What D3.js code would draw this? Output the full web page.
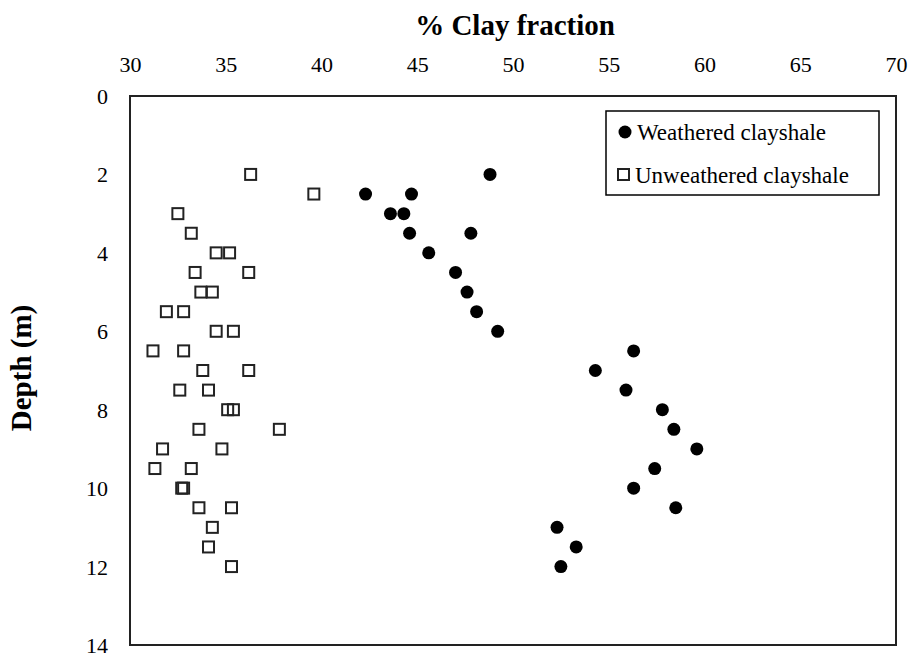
<!DOCTYPE html>
<html>
<head>
<meta charset="utf-8">
<script src="https://cdn.jsdelivr.net/npm/d3@7"></script>
<style>
	body { margin: 0; background: #fff; }
	svg { display: block; font-family: "Liberation Serif", "Times New Roman", serif; }
</style>
</head>
<body>
<svg width="909" height="656"></svg>
<script>
// depth (m) and clay fraction (%)
const weatheredDepth = [2, 2.5, 2.5, 3, 3, 3.5, 3.5, 4, 4.5, 5, 5.5, 6, 6.5, 7, 7.5, 8, 8.5, 9, 9.5, 10, 10.5, 11, 11.5, 12];
const weatheredClay = [48.8, 42.3, 44.7, 43.6, 44.3, 44.6, 47.8, 45.6, 47.0, 47.6, 48.1, 49.2, 56.3, 54.3, 55.9, 57.8, 58.4, 59.6, 57.4, 56.3, 58.5, 52.3, 53.3, 52.5];

const unweatheredDepth = [2, 2.5, 3, 3.5, 4, 4, 4.5, 4.5, 5, 5, 5.5, 5.5, 6, 6, 6.5, 6.5, 7, 7, 7.5, 7.5, 8, 8, 8.5, 8.5, 9, 9, 9.5, 9.5, 10, 10, 10.5, 10.5, 11, 11.5, 12];
const unweatheredClay = [36.3, 39.6, 32.5, 33.2, 34.5, 35.2, 33.4, 36.2, 33.7, 34.3, 31.9, 32.8, 34.5, 35.4, 31.2, 32.8, 33.8, 36.2, 32.6, 34.1, 35.1, 35.4, 33.6, 37.8, 31.7, 34.8, 31.3, 33.2, 32.7, 32.8, 33.6, 35.3, 34.3, 34.1, 35.3];

const clayTicks = [30, 35, 40, 45, 50, 55, 60, 65, 70];
const depthTicks = [0, 2, 4, 6, 8, 10, 12, 14];

const seriesNames = ["Weathered clayshale", "Unweathered clayshale"];

const serif = '"Liberation Serif", "Times New Roman", serif';

const svg = d3.select("svg");
const margin = {top: 96, right: 13, bottom: 11, left: 130};
const width = 909 - margin.left - margin.right;
const height = 656 - margin.top - margin.bottom;

const x = d3.scaleLinear().domain([30, 70]).range([0, width]);
const y = d3.scaleLinear().domain([0, 14]).range([0, height]);

const g = svg.append("g")
	.attr("transform", `translate(${margin.left},${margin.top})`);

// axes without tick marks, labels only
const gX = g.append("g")
	.attr("transform", "translate(0,-24)")
	.call(d3.axisTop(x).tickValues(clayTicks).tickSize(0).tickPadding(0));
gX.attr("font-family", serif).attr("font-size", 22);
gX.select(".domain").remove();
gX.selectAll("text").attr("dy", "0").attr("fill", "#000");

const gY = g.append("g")
	.attr("transform", "translate(-22,0)")
	.call(d3.axisLeft(y).tickValues(depthTicks).tickSize(0).tickPadding(0));
gY.attr("font-family", serif).attr("font-size", 22);
gY.select(".domain").remove();
gY.selectAll("text").attr("dy", "0.34em").attr("fill", "#000");

// frame
g.append("rect")
	.attr("x", 0)
	.attr("y", 0)
	.attr("width", width)
	.attr("height", height)
	.attr("fill", "none")
	.attr("stroke", "#222")
	.attr("stroke-width", 2);

// titles
svg.append("text")
	.attr("x", 515)
	.attr("y", 35)
	.attr("text-anchor", "middle")
	.attr("font-size", 29)
	.attr("font-weight", "bold")
	.text("% Clay fraction");

svg.append("text")
	.attr("transform", "translate(31,368) rotate(-90)")
	.attr("text-anchor", "middle")
	.attr("font-size", 29)
	.attr("font-weight", "bold")
	.text("Depth (m)");

// points
const unweathered = unweatheredDepth.map((d, i) => ({depth: d, clay: unweatheredClay[i]}));
const weathered = weatheredDepth.map((d, i) => ({depth: d, clay: weatheredClay[i]}));

const sq = 11;
g.append("g").selectAll("rect")
	.data(unweathered)
	.join("rect")
	.attr("x", d => x(d.clay) - sq / 2)
	.attr("y", d => y(d.depth) - sq / 2)
	.attr("width", sq)
	.attr("height", sq)
	.attr("fill", "none")
	.attr("stroke", "#222")
	.attr("stroke-width", 2);

g.append("g").selectAll("circle")
	.data(weathered)
	.join("circle")
	.attr("cx", d => x(d.clay))
	.attr("cy", d => y(d.depth))
	.attr("r", 6.5)
	.attr("fill", "#000");

// legend
const legend = svg.append("g");
legend.append("rect")
	.attr("x", 606)
	.attr("y", 111)
	.attr("width", 273)
	.attr("height", 84)
	.attr("fill", "#fff")
	.attr("stroke", "#000")
	.attr("stroke-width", 1.5);

legend.append("circle")
	.attr("cx", 625)
	.attr("cy", 132)
	.attr("r", 6.5)
	.attr("fill", "#000");

legend.append("rect")
	.attr("x", 618)
	.attr("y", 169)
	.attr("width", 11)
	.attr("height", 11)
	.attr("fill", "none")
	.attr("stroke", "#222")
	.attr("stroke-width", 2);

legend.selectAll("text")
	.data(seriesNames)
	.join("text")
	.attr("x", (d, i) => i === 0 ? 637 : 635)
	.attr("y", (d, i) => i === 0 ? 140 : 183)
	.attr("font-size", 23)
	.text(d => d);
</script>
</body>
</html>
